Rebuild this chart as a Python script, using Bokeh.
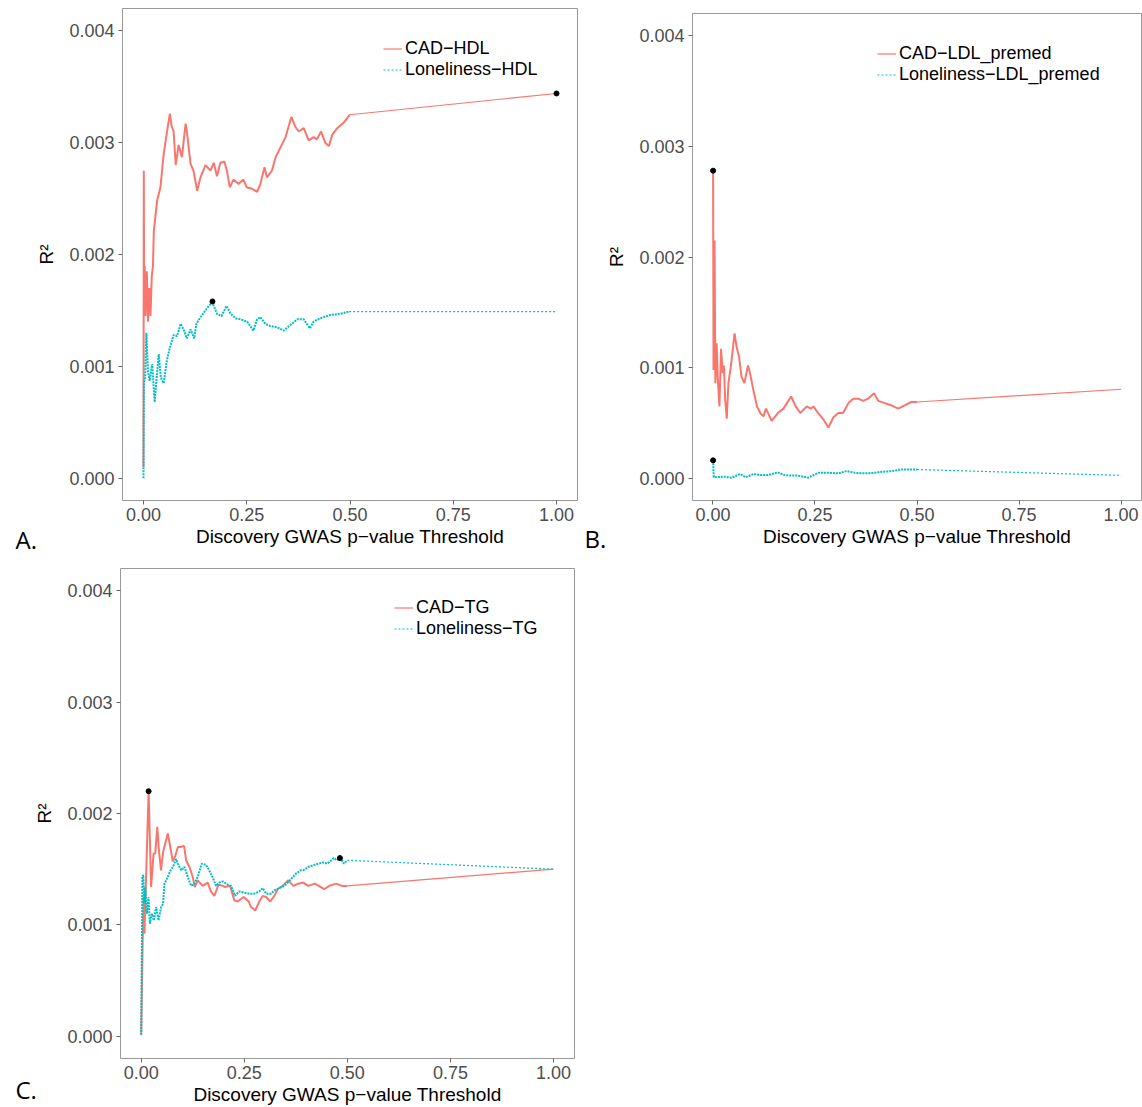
from bokeh.plotting import figure
from bokeh.models import FixedTicker, PrintfTickFormatter, Range1d, Legend, LegendItem, Label
from bokeh.layouts import column, row
from bokeh.embed import file_html
from bokeh.resources import INLINE

# ---------------- data ----------------
X_TICKS = [0.0, 0.25, 0.5, 0.75, 1.0]
Y_TICKS = [0.0, 0.001, 0.002, 0.003, 0.004]

# Panel A: HDL
a_cad_x = [0.0, 0.0008, 0.0015, 0.003, 0.005, 0.008, 0.011, 0.014, 0.017, 0.020, 0.023, 0.025,
           0.033, 0.041, 0.049, 0.057, 0.064, 0.068, 0.073, 0.078, 0.085, 0.093, 0.102, 0.105,
           0.114, 0.121, 0.130, 0.138, 0.150, 0.162, 0.170, 0.178, 0.186, 0.196, 0.202, 0.209,
           0.218, 0.230, 0.242, 0.250, 0.262, 0.275, 0.283, 0.293, 0.299, 0.311, 0.320, 0.332,
           0.344, 0.358, 0.368, 0.376, 0.388, 0.400, 0.412, 0.420, 0.430, 0.440, 0.449, 0.457,
           0.469, 0.485, 0.4996, 1.0]
a_cad_y = [0.0001, 0.00275, 0.0016, 0.0019, 0.00145, 0.00185, 0.0014, 0.0017, 0.00145, 0.0018, 0.0019, 0.00221,
           0.00248, 0.0026, 0.0029, 0.0031, 0.00326, 0.00315, 0.0031, 0.0028, 0.00298, 0.00287, 0.00317, 0.0031,
           0.00281, 0.00275, 0.00257, 0.00269, 0.0028, 0.00275, 0.00282, 0.0027, 0.00282, 0.00283, 0.00275, 0.0026,
           0.00267, 0.00263, 0.00267, 0.0026, 0.00259, 0.00256, 0.00263, 0.00278, 0.00269, 0.00275, 0.00287, 0.00296,
           0.00305, 0.00323, 0.00314, 0.0031, 0.00313, 0.00302, 0.00305, 0.00303, 0.0031, 0.003, 0.00297, 0.00307,
           0.00313, 0.00318, 0.00325, 0.00344]
a_lon_x = [0.0, 0.001, 0.004, 0.007, 0.011, 0.015, 0.021, 0.027, 0.032, 0.037, 0.042, 0.049, 0.057,
           0.064, 0.073, 0.081, 0.090, 0.097, 0.105, 0.114, 0.123, 0.128, 0.138, 0.150, 0.158, 0.167,
           0.178, 0.189, 0.201, 0.211, 0.223, 0.235, 0.251, 0.266, 0.275, 0.283, 0.295, 0.307, 0.323,
           0.340, 0.356, 0.372, 0.388, 0.403, 0.412, 0.428, 0.453, 0.477, 0.498, 1.0]
a_lon_y = [0.0, 0.00085, 0.0009, 0.0013, 0.00095, 0.00087, 0.00102, 0.00068, 0.0009, 0.00111, 0.0009, 0.00085, 0.00106,
           0.00117, 0.00128, 0.00127, 0.00138, 0.00133, 0.00125, 0.00133, 0.00125, 0.00138, 0.00144, 0.0015, 0.00154, 0.00157,
           0.00147, 0.00145, 0.00154, 0.00147, 0.00143, 0.00142, 0.0014, 0.00132, 0.00142, 0.00144, 0.00138, 0.00136, 0.00135,
           0.00132, 0.00137, 0.00142, 0.00142, 0.00134, 0.0014, 0.00143, 0.00146, 0.00147, 0.00149, 0.00149]
a_dot_x = [1.0, 0.167]
a_dot_y = [0.00344, 0.00158]

# Panel B: LDL_premed
b_cad_x = [0.0005, 0.0015, 0.004, 0.006, 0.009, 0.012, 0.016, 0.020, 0.024, 0.027, 0.030, 0.034, 0.038,
           0.045, 0.053, 0.058, 0.064, 0.070, 0.077, 0.086, 0.091, 0.099, 0.108, 0.116, 0.124, 0.130,
           0.144, 0.159, 0.173, 0.1915, 0.203, 0.214, 0.230, 0.240, 0.246, 0.258, 0.271, 0.283, 0.295,
           0.307, 0.319, 0.332, 0.344, 0.356, 0.368, 0.380, 0.395, 0.405, 0.421, 0.437, 0.454, 0.470,
           0.486, 0.500, 1.0]
b_cad_y = [0.00278, 0.00098, 0.00215, 0.00086, 0.00122, 0.0009, 0.00065, 0.00117, 0.00095, 0.00102, 0.00071, 0.00054, 0.00086,
           0.00104, 0.00131, 0.00119, 0.0011, 0.00092, 0.00086, 0.00102, 0.00095, 0.0008, 0.00065, 0.00059, 0.00056, 0.00063,
           0.00052, 0.00059, 0.00063, 0.00074, 0.00065, 0.00059, 0.00065, 0.00063, 0.00065, 0.00059, 0.00053, 0.00046, 0.00055,
           0.00059, 0.00059, 0.00068, 0.00072, 0.00072, 0.0007, 0.00072, 0.00077, 0.0007, 0.00068, 0.00066, 0.00063, 0.00066,
           0.00069, 0.00069, 0.000805]
b_lon_x = [0.0005, 0.002, 0.030, 0.045, 0.067, 0.080, 0.100, 0.115, 0.135, 0.159, 0.175, 0.191, 0.208,
           0.234, 0.258, 0.283, 0.307, 0.328, 0.348, 0.372, 0.397, 0.413, 0.437, 0.462, 0.486, 0.500, 1.0]
b_lon_y = [0.000163, 0.00001, 0.000015, 0.000005, 0.00004, 0.00001, 0.00004, 0.00003, 0.00003, 0.000054, 0.00003, 0.000025, 0.000025,
           0.000006, 0.00005, 0.00005, 0.000045, 0.000066, 0.00005, 0.000045, 0.00005, 0.00006, 0.000064, 0.00008, 0.00008, 0.00008, 0.000027]
b_dot_x = [0.0005, 0.0005]
b_dot_y = [0.00278, 0.000163]

# Panel C: TG
c_cad_x = [0.0, 0.004, 0.006, 0.008, 0.0116, 0.0145, 0.018, 0.021, 0.024, 0.030, 0.034, 0.039, 0.043,
           0.048, 0.053, 0.057, 0.0646, 0.070, 0.0767, 0.082, 0.089, 0.097, 0.104, 0.109, 0.117, 0.125,
           0.130, 0.137, 0.149, 0.1614, 0.169, 0.1775, 0.1873, 0.198, 0.2034, 0.2155, 0.226, 0.234,
           0.2486, 0.2607, 0.2663, 0.2768, 0.2865, 0.2946, 0.303, 0.3131, 0.3228, 0.331, 0.343, 0.3567,
           0.369, 0.3809, 0.393, 0.4051, 0.4213, 0.4439, 0.456, 0.473, 0.487, 0.500, 1.0]
c_cad_y = [0.00002, 0.00095, 0.00125, 0.00092, 0.0014, 0.00176, 0.0022, 0.00178, 0.00134, 0.00164, 0.00164, 0.00188, 0.00167,
           0.00149, 0.00165, 0.00171, 0.00182, 0.00171, 0.00157, 0.00161, 0.0017, 0.0017, 0.00171, 0.00158, 0.00152, 0.00143,
           0.00134, 0.0014, 0.00135, 0.00138, 0.0013, 0.00126, 0.00136, 0.00135, 0.00134, 0.00135, 0.00122, 0.00121,
           0.00125, 0.00121, 0.00116, 0.00113, 0.00121, 0.00126, 0.00125, 0.00121, 0.00126, 0.00132, 0.00135, 0.0014,
           0.00135, 0.00137, 0.00138, 0.00135, 0.00137, 0.00132, 0.00135, 0.00137, 0.00135, 0.00135, 0.0015]
c_lon_x = [0.0, 0.003, 0.005, 0.0075, 0.010, 0.0137, 0.0178, 0.021, 0.026, 0.0307, 0.0363, 0.042, 0.0484,
           0.053, 0.0565, 0.0646, 0.071, 0.077, 0.0847, 0.0888, 0.097, 0.105, 0.113, 0.121, 0.129, 0.137,
           0.147, 0.157, 0.165, 0.173, 0.1816, 0.1897, 0.198, 0.2098, 0.218, 0.2276, 0.2373, 0.2494, 0.2615,
           0.2744, 0.2865, 0.2946, 0.303, 0.315, 0.3228, 0.335, 0.3471, 0.3632, 0.3753, 0.3874, 0.393, 0.4051,
           0.421, 0.440, 0.452, 0.4673, 0.475, 0.4826, 0.492, 0.4996, 1.0]
c_lon_y = [0.00001, 0.00143, 0.00145, 0.00119, 0.00134, 0.0011, 0.00125, 0.00101, 0.0011, 0.00104, 0.00116, 0.00104, 0.00116,
           0.00119, 0.00137, 0.00143, 0.00149, 0.00152, 0.00159, 0.00155, 0.00149, 0.00152, 0.00143, 0.00135, 0.00137, 0.00143,
           0.00155, 0.00154, 0.00149, 0.00143, 0.00135, 0.00138, 0.00139, 0.00136, 0.00135, 0.00126, 0.0013, 0.00129, 0.00128,
           0.00128, 0.0013, 0.00133, 0.00128, 0.00128, 0.00131, 0.00133, 0.00135, 0.00141, 0.00146, 0.00149, 0.00149, 0.00152,
           0.00154, 0.00156, 0.00155, 0.0016, 0.00158, 0.0016, 0.00155, 0.00158, 0.0015]
c_dot_x = [0.018, 0.482]
c_dot_y = [0.0022, 0.0016]

RED = "#F8766D"
CYAN = "#00BFC4"
FONT = "Liberation Sans"


def make_panel(width, height, borders, xr, cad, lon, dots, names, legend_loc, tag, tag_pos):
    bl, br, bt, bb = borders
    p = figure(width=width, height=height, output_backend="svg", toolbar_location=None,
               x_range=Range1d(*xr), y_range=Range1d(-0.0002, 0.0042),
               min_border_left=bl, min_border_right=br, min_border_top=bt, min_border_bottom=bb)
    if "frame_align" in p.properties():
        p.frame_align = False
    p.xgrid.visible = False
    p.ygrid.visible = False
    p.outline_line_color = "#9a9a9a"
    p.outline_line_width = 1
    p.background_fill_color = "white"
    p.border_fill_color = "white"

    for ax in (p.xaxis[0], p.yaxis[0]):
        ax.axis_line_color = None
        ax.major_tick_line_color = "#666666"
        ax.major_tick_out = 4
        ax.major_tick_in = 0
        ax.minor_tick_line_color = None
        ax.major_label_text_font = FONT
        ax.major_label_text_font_size = "18px"
        ax.major_label_text_color = "#4d4d4d"
        ax.axis_label_text_font = FONT
        ax.axis_label_text_font_size = "19px"
        ax.axis_label_text_font_style = "normal"
        ax.axis_label_text_color = "black"

    p.xaxis.ticker = FixedTicker(ticks=X_TICKS)
    p.xaxis.formatter = PrintfTickFormatter(format="%.2f")
    p.xaxis.axis_label = "Discovery GWAS p\u2212value Threshold"
    p.xaxis.major_label_standoff = 3
    p.xaxis.axis_label_standoff = 2

    p.yaxis.ticker = FixedTicker(ticks=Y_TICKS)
    p.yaxis.formatter = PrintfTickFormatter(format="%.3f")
    p.yaxis.axis_label = "R\u00b2"
    p.yaxis.major_label_standoff = 4
    p.yaxis.axis_label_standoff = 9

    box = p.rect(x=[], y=[], width=0.1, height=0.1, fill_color="#f2f2f2", line_color=None)
    # noisy part (thresholds up to 0.5) and the final step to 1.0
    p.line(cad[0][:-1], cad[1][:-1], line_color=RED, line_width=2)
    r1 = p.line(cad[0][-2:], cad[1][-2:], line_color=RED, line_width=1.2)
    p.line(lon[0][:-1], lon[1][:-1], line_color=CYAN, line_width=2, line_dash="2 1")
    r2 = p.line(lon[0][-2:], lon[1][-2:], line_color=CYAN, line_width=1.2, line_dash="2 2")
    p.scatter(dots[0], dots[1], size=5, color="black")

    legend = Legend(items=[LegendItem(label=names[0], renderers=[box, r1]),
                           LegendItem(label=names[1], renderers=[box, r2])],
                    location=legend_loc, orientation="vertical",
                    background_fill_alpha=0, border_line_color=None,
                    padding=0, margin=0, spacing=0,
                    glyph_width=19, glyph_height=19, label_height=18,
                    label_standoff=3, label_text_font=FONT,
                    label_text_font_size="18px", label_text_color="black")
    p.add_layout(legend)

    p.add_layout(Label(x=tag_pos[0], y=tag_pos[1], x_units="screen", y_units="screen",
                       text=tag, text_font="Open Sans", text_font_size="24px",
                       text_color="black", text_align="left", text_baseline="alphabetic"), "left")
    return p


pA = make_panel(580, 558, (122, 3, 8, 58), (-0.0508, 1.0508),
                (a_cad_x, a_cad_y), (a_lon_x, a_lon_y), (a_dot_x, a_dot_y),
                ("CAD\u2212HDL", "Loneliness\u2212HDL"), (261, 420), "A.", (3, -39))
pB = make_panel(562, 558, (112, 1, 13, 58), (-0.05, 1.05),
                (b_cad_x, b_cad_y), (b_lon_x, b_lon_y), (b_dot_x, b_dot_y),
                ("CAD\u2212LDL_premed", "Loneliness\u2212LDL_premed"), (185, 415), "B.", (3, -38))
pC = make_panel(580, 549, (120, 6, 10, 48), (-0.0502, 1.051),
                (c_cad_x, c_cad_y), (c_lon_x, c_lon_y), (c_dot_x, c_dot_y),
                ("CAD\u2212TG", "Loneliness\u2212TG"), (274, 419), "C.", (5, -31))

layout = column(row(pA, pB), pC)
open("out.html", "w").write(file_html(layout, INLINE))
